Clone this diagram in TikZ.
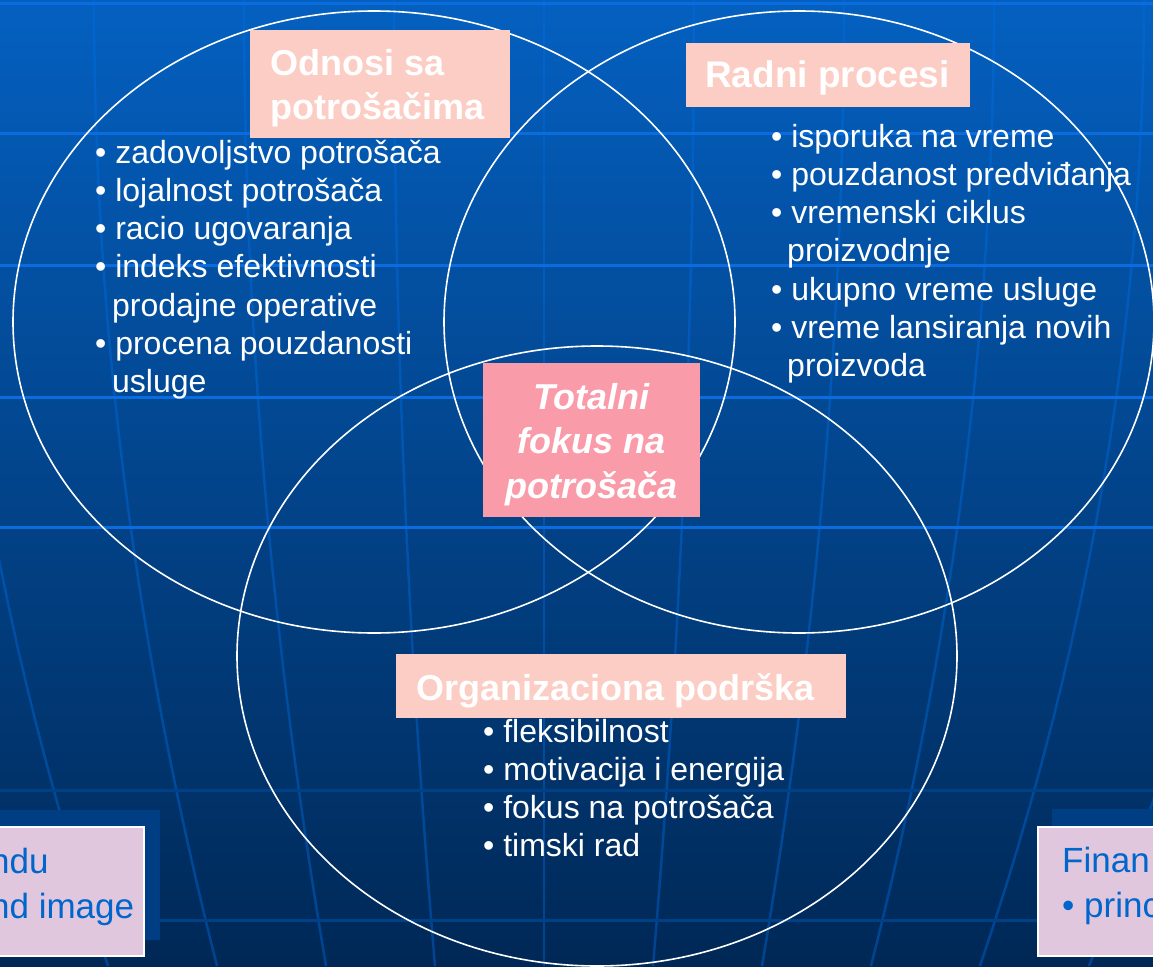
\documentclass[tikz,border=0pt]{standalone}
\usepackage{fontspec}
\setmainfont{Liberation Sans}
\usetikzlibrary{positioning}
\definecolor{bg top}{RGB}{4,96,192}
\definecolor{bg bottom}{RGB}{0,40,86}
\definecolor{grid light}{RGB}{10,108,222}
\definecolor{grid dark}{RGB}{0,64,134}
\definecolor{meridian}{RGB}{0,110,230}
\definecolor{salmon}{RGB}{252,205,196}
\definecolor{rose}{RGB}{250,155,170}
\definecolor{lavender}{RGB}{224,199,222}
\definecolor{shadow blue}{RGB}{0,62,132}
\definecolor{link blue}{RGB}{0,102,204}
\tikzset{
	venn circle/.style={draw=white,line width=1.6pt},
	title box/.style={fill=#1,inner sep=0pt,anchor=north west},
	title text/.style={text=white,font=\bfseries\fontsize{36}{43.5}\selectfont,inner sep=0pt,align=left,anchor=base west},
	item/.style={text=white,font=\fontsize{32}{38}\selectfont,inner sep=0pt,anchor=base west},
	side box/.style={fill=lavender,draw=white,line width=2pt,inner sep=0pt,anchor=north west},
	side text/.style={text=link blue,font=\fontsize{35}{45}\selectfont,inner sep=0pt,anchor=base west}
}

\begin{document}
\begin{tikzpicture}[
		x=1pt, y=-1pt,
		grid line/.style = {line width=3pt},
		meridian line/.style = {draw=meridian, draw opacity=0.4, line width=2.5pt},
	]
	\useasboundingbox (0,0) rectangle (1153,966);
	\clip (0,0) rectangle (1153,966);

	% background
	\shade[top color=bg top, bottom color=bg bottom] (0,0) rectangle (1153,966);
	\foreach\d in {-600,-450,...,750}{
		\draw[meridian line] plot[domain=0:966, samples=25, variable=\t] ({544+\d*(1-0.293*(\t/1000)^2)}, \t);
	}
	\foreach\h in {4,133,265,397,527}{
		\draw[grid line, grid light] (0,\h) -- (1153,\h);
	}
	\foreach\h in {790,920}{
		\draw[grid line, grid dark] (0,\h) -- (1153,\h);
	}

	% side boxes
	\node [fill=shadow blue, inner sep=0pt, anchor=north west, minimum width=170pt, minimum height=130pt] (ucenje shadow) at (-10,810) {};
	\node [side box, minimum width=153pt, minimum height=129pt] (ucenje) at (-10,826) {};
	\node [side text] (ucenje1) at (-10,873) {ndu};
	\node [side text] (ucenje2) at (-10,918) {nd image};

	\node [fill=shadow blue, inner sep=0pt, anchor=north west, minimum width=110pt, minimum height=131pt] (finansije shadow) at (1052,809) {};
	\node [side box, minimum width=130pt, minimum height=129pt] (finansije) at (1037,826) {};
	\node [side text] (finansije1) at (1062,872) {Finan};
	\node [side text] (finansije2) at (1062,917) {• princ};

	% venn
	\draw[venn circle] (374,322) ellipse [x radius=361, y radius=311];
	\draw[venn circle] (799,322) ellipse [x radius=355, y radius=311];
	\draw[venn circle] (597,656) ellipse [x radius=360, y radius=310];

	\node [title box=salmon, minimum width=260pt, minimum height=108pt] (odnosi box) at (250,30) {};
	\node [title text] (odnosi) at (270,119) {Odnosi sa\\potrošačima};
	\foreach\txt [count=\i] in {{• zadovoljstvo potrošača},{• lojalnost potrošača},{• racio ugovaranja},
		{• indeks efektivnosti},{\hspace{17pt}prodajne operative},{• procena pouzdanosti},{\hspace{17pt}usluge}}{
		\node [item] (odnosi\i) at (95,{163+38.3*(\i-1)}) {\txt};
	}

	\node [title box=salmon, minimum width=284pt, minimum height=64pt] (radni box) at (686,43) {};
	\node [title text, font=\bfseries\fontsize{37}{44}\selectfont] (radni) at (705,88) {Radni procesi};
	\foreach\txt [count=\i] in {{• isporuka na vreme},{• pouzdanost predviđanja},{• vremenski ciklus},
		{\hspace{16pt}proizvodnje},{• ukupno vreme usluge},{• vreme lansiranja novih},{\hspace{16pt}proizvoda}}{
		\node [item] (radni\i) at (771,{147+38.3*(\i-1)}) {\txt};
	}

	\node [title box=rose, minimum width=217pt, minimum height=154pt] (fokus box) at (483,363) {};
	\node [title text, font=\bfseries\itshape\fontsize{36}{44.5}\selectfont, align=center, anchor=base] (fokus) at (591.5,498) {Totalni\\fokus na\\potrošača};

	\node [title box=salmon, minimum width=450pt, minimum height=64pt] (podrska box) at (396,654) {};
	\node [title text] (podrska) at (416,700) {Organizaciona podrška};
	\foreach\txt [count=\i] in {{• fleksibilnost},{• motivacija i energija},{• fokus na potrošača},{• timski rad}}{
		\node [item] (podrska\i) at (483,{742+38.3*(\i-1)}) {\txt};
	}
\end{tikzpicture}
\end{document}
